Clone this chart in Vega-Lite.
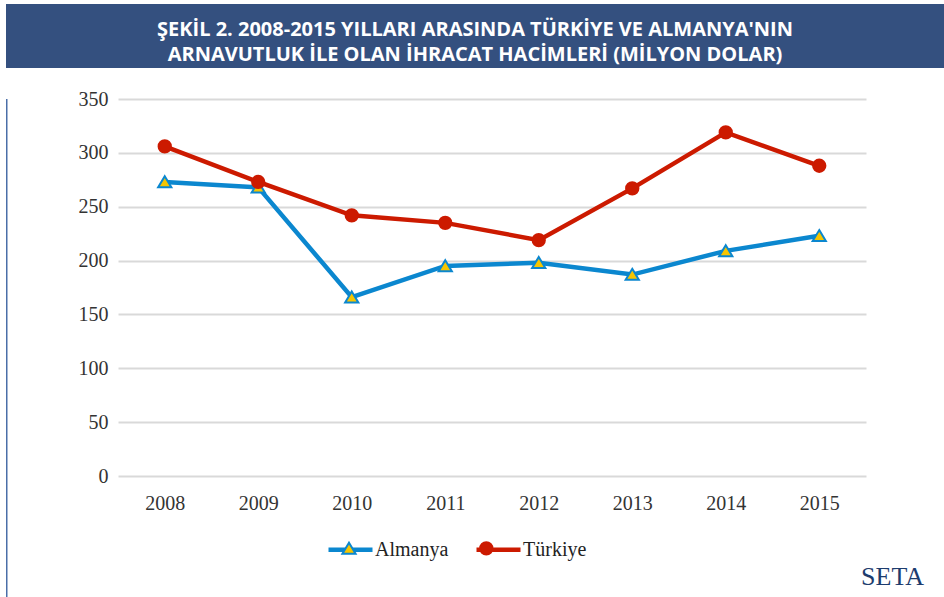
{
  "$schema": "https://vega.github.io/schema/vega-lite/v6.json",
  "padding": {"left": 6, "top": 4, "right": 0, "bottom": 0},
  "background": "white",
  "spacing": 21,
  "config": {"view": {"stroke": null}},
  "title": {"text": "SETA", "orient": "bottom", "anchor": "end", "font": "Liberation Serif", "fontSize": 26, "fontWeight": "normal", "color": "#1d3c6e", "offset": -33, "dx": -20},
  "vconcat": [
    {
      "width": 938,
      "height": 64,
      "view": {"fill": "#34507f", "stroke": null},
      "data": {"values": [{"title": "ŞEKİL 2. 2008-2015 YILLARI ARASINDA TÜRKİYE VE ALMANYA'NIN\nARNAVUTLUK İLE OLAN İHRACAT HACİMLERİ (MİLYON DOLAR)"}]},
      "mark": {"type": "text", "lineBreak": "\n", "font": "Open Sans", "fontWeight": "bold", "fontSize": 20, "color": "white", "lineHeight": 24.5, "align": "center", "baseline": "middle", "dy": -6},
      "encoding": {"text": {"field": "title"}}
    },
    {
      "spacing": 60,
      "hconcat": [
        {
          "width": 1.5,
          "height": 498,
          "view": {"fill": "#4a6ea8", "stroke": null},
          "data": {"values": []},
          "mark": "point"
        },
        {
          "width": 748,
          "height": 377,
          "data": {"values": [
            {"year": "2008", "series": "Almanya", "value": 273},
            {"year": "2009", "series": "Almanya", "value": 268},
            {"year": "2010", "series": "Almanya", "value": 166},
            {"year": "2011", "series": "Almanya", "value": 195},
            {"year": "2012", "series": "Almanya", "value": 198},
            {"year": "2013", "series": "Almanya", "value": 187},
            {"year": "2014", "series": "Almanya", "value": 209},
            {"year": "2015", "series": "Almanya", "value": 223},
            {"year": "2008", "series": "Türkiye", "value": 306},
            {"year": "2009", "series": "Türkiye", "value": 273},
            {"year": "2010", "series": "Türkiye", "value": 242},
            {"year": "2011", "series": "Türkiye", "value": 235},
            {"year": "2012", "series": "Türkiye", "value": 219},
            {"year": "2013", "series": "Türkiye", "value": 267},
            {"year": "2014", "series": "Türkiye", "value": 319},
            {"year": "2015", "series": "Türkiye", "value": 288}
          ]},
          "encoding": {
            "x": {"field": "year", "type": "ordinal", "scale": {"type": "point", "padding": 0.5},
              "axis": {"title": null, "labelAngle": 0, "domain": false, "ticks": false, "grid": false, "labelPadding": 17, "labelFont": "Liberation Serif", "labelFontSize": 20, "labelColor": "#333333"}},
            "y": {"field": "value", "type": "quantitative", "scale": {"domain": [0, 350], "nice": false},
              "axis": {"title": null, "values": [0, 50, 100, 150, 200, 250, 300, 350], "domain": false, "ticks": false, "tickSize": 0, "labelPadding": 10, "minExtent": 50, "gridColor": "#d9d9d9", "gridWidth": 2, "labelFont": "Liberation Serif", "labelFontSize": 20, "labelColor": "#333333"}}
          },
          "layer": [
            {
              "mark": {"type": "line", "strokeWidth": 4.5},
              "encoding": {
                "color": {"field": "series", "type": "nominal", "scale": {"range": ["#0b87cf", "#cc1a00"]},
                  "legend": {"title": null, "orient": "none", "legendX": 320, "legendY": 521, "direction": "horizontal", "symbolType": "M-1,0H1", "symbolSize": 1936, "symbolStrokeWidth": 4.5, "labelFont": "Liberation Serif", "labelFontSize": 20, "labelColor": "#222222", "labelOffset": 0, "columnPadding": 18, "padding": 0,
                    "encoding": {"symbols": {"fill": {"value": "transparent"}, "opacity": {"value": 1}}}}}
              }
            },
            {
              "mark": {"type": "point", "filled": true, "size": 1936, "strokeWidth": 2, "opacity": 1},
              "encoding": {
                "shape": {"field": "series", "type": "nominal", "scale": {"domain": ["Almanya", "Türkiye"], "range": ["M0,-0.26L0.3,0.24L-0.3,0.24Z", "M0.28,0A0.28,0.28 0 1,1 -0.28,0A0.28,0.28 0 1,1 0.28,0Z"]},
                  "legend": {"title": null, "orient": "none", "legendX": 320, "legendY": 521, "direction": "horizontal", "symbolSize": 1936, "symbolStrokeWidth": 4.5, "labelFont": "Liberation Serif", "labelFontSize": 20, "labelExpr": "''", "labelOffset": 0, "columnPadding": 91.3, "padding": 0,
                    "encoding": {"symbols": {
                      "fill": {"condition": {"test": "datum.value === 'Almanya'", "value": "#f7c500"}, "value": "#cc1a00"},
                      "stroke": {"condition": {"test": "datum.value === 'Almanya'", "value": "#0b87cf"}, "value": "#cc1a00"},
                      "strokeWidth": {"value": 2},
                      "opacity": {"value": 1}}}}},
                "fill": {"field": "series", "type": "nominal", "scale": {"range": ["#f7c500", "#cc1a00"]}, "legend": null},
                "stroke": {"field": "series", "type": "nominal", "scale": {"range": ["#0b87cf", "#cc1a00"]}, "legend": null}
              }
            }
          ]
        }
      ]
    }
  ]
}
